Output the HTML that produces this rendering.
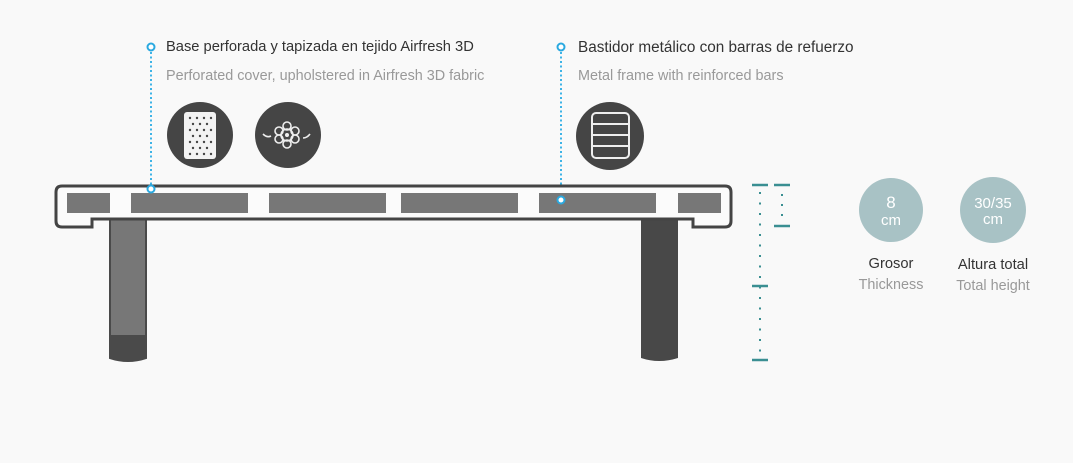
<!DOCTYPE html>
<html><head><style>
body{margin:0;background:#f9f9f9;width:1073px;height:463px;overflow:hidden;font-family:"Liberation Sans",sans-serif}
.t{position:absolute;font-size:14.7px;color:#333;white-space:nowrap}
.s{position:absolute;font-size:14.4px;color:#999;white-space:nowrap}
</style></head><body>
<svg width="1073" height="463" style="position:absolute;left:0;top:0">
<line x1="151" y1="52" x2="151" y2="185" stroke="#3db3e6" stroke-width="2" stroke-dasharray="2 2.5"/>
<circle cx="151" cy="47" r="3.5" fill="#fff" stroke="#2aa9e0" stroke-width="2"/>
<line x1="561" y1="52" x2="561" y2="196" stroke="#3db3e6" stroke-width="2" stroke-dasharray="2 2.5"/>
<circle cx="561" cy="47" r="3.5" fill="#fff" stroke="#2aa9e0" stroke-width="2"/>
<circle cx="200" cy="135" r="33" fill="#454545"/>
<rect x="184" y="112" width="32" height="47" rx="3" fill="#f3f3f3"/>
<g fill="#454545">
<circle cx="190" cy="118" r="1.2"/><circle cx="197" cy="118" r="1.2"/><circle cx="204" cy="118" r="1.2"/><circle cx="211" cy="118" r="1.2"/>
<circle cx="193" cy="124" r="1.2"/><circle cx="200" cy="124" r="1.2"/><circle cx="207" cy="124" r="1.2"/>
<circle cx="190" cy="130" r="1.2"/><circle cx="197" cy="130" r="1.2"/><circle cx="204" cy="130" r="1.2"/><circle cx="211" cy="130" r="1.2"/>
<circle cx="193" cy="136" r="1.2"/><circle cx="200" cy="136" r="1.2"/><circle cx="207" cy="136" r="1.2"/>
<circle cx="190" cy="142" r="1.2"/><circle cx="197" cy="142" r="1.2"/><circle cx="204" cy="142" r="1.2"/><circle cx="211" cy="142" r="1.2"/>
<circle cx="193" cy="148" r="1.2"/><circle cx="200" cy="148" r="1.2"/><circle cx="207" cy="148" r="1.2"/>
<circle cx="190" cy="154" r="1.2"/><circle cx="197" cy="154" r="1.2"/><circle cx="204" cy="154" r="1.2"/><circle cx="211" cy="154" r="1.2"/>
</g>
<circle cx="288" cy="135" r="33" fill="#454545"/>
<g fill="none" stroke="#eee" stroke-width="1.6">
<circle cx="287" cy="135" r="6"/><circle cx="287" cy="126" r="4"/><circle cx="287" cy="144" r="4"/><circle cx="279" cy="131" r="4"/><circle cx="295" cy="131" r="4"/><circle cx="279" cy="139" r="4"/><circle cx="295" cy="139" r="4"/>
<path d="M263 134 q4 4 8 2"/><path d="M303 138 q4 0 7 -4"/>
</g>
<circle cx="287" cy="135" r="2" fill="#eee"/>
<circle cx="610" cy="136" r="34" fill="#454545"/>
<rect x="592" y="113" width="37" height="45" rx="4" fill="none" stroke="#eee" stroke-width="2"/>
<g stroke="#eee" stroke-width="2"><line x1="592" y1="124" x2="629" y2="124"/><line x1="592" y1="135" x2="629" y2="135"/><line x1="592" y1="146" x2="629" y2="146"/></g>
<path d="M110 219 H146 V358 Q128 364 110 358 Z" fill="#777" stroke="#4a4a4a" stroke-width="2"/>
<path d="M110 335 H146 V358 Q128 364 110 358 Z" fill="#4a4a4a"/>
<path d="M641 219 H678 V358 Q659 364 641 358 Z" fill="#484848"/>
<path d="M63 186 H725 Q731 186 731 192 V221 Q731 227 725 227 H693 V219 H92 V227 H62 Q56 227 56 221 V192 Q56 186 62 186 Z" fill="#fbfbfb" stroke="#444" stroke-width="3"/>
<g fill="#777">
<rect x="67" y="193" width="43" height="20"/><rect x="131" y="193" width="117" height="20"/><rect x="269" y="193" width="117" height="20"/><rect x="401" y="193" width="117" height="20"/><rect x="539" y="193" width="117" height="20"/><rect x="678" y="193" width="43" height="20"/>
</g>
<circle cx="151" cy="189" r="3.5" fill="#fff" stroke="#2aa9e0" stroke-width="2"/>
<circle cx="561" cy="200" r="3.5" fill="#fff" stroke="#2aa9e0" stroke-width="2"/>
<g stroke="#3a8f92" stroke-width="2.5">
<line x1="752" y1="185" x2="768" y2="185"/><line x1="752" y1="286" x2="768" y2="286"/><line x1="752" y1="360" x2="768" y2="360"/>
<line x1="774" y1="185" x2="790" y2="185"/><line x1="774" y1="226" x2="790" y2="226"/>
</g>
<line x1="760" y1="192" x2="760" y2="356" stroke="#3a8f92" stroke-width="2" stroke-dasharray="2 8.5"/>
<line x1="782" y1="194" x2="782" y2="220" stroke="#3a8f92" stroke-width="2" stroke-dasharray="2 8"/>
<circle cx="891" cy="210" r="32" fill="#a8c2c5"/>
<circle cx="993" cy="210" r="33" fill="#a8c2c5"/>
<g fill="#fff" font-family="Liberation Sans" text-anchor="middle">
<text x="891" y="208" font-size="17">8</text><text x="891" y="225" font-size="15">cm</text>
<text x="993" y="208" font-size="15">30/35</text><text x="993" y="224" font-size="15">cm</text>
</g>
</svg>
<div class="t" style="left:166px;top:39px">Base perforada y tapizada en tejido Airfresh 3D</div>
<div class="s" style="left:166px;top:68px">Perforated cover, upholstered in Airfresh 3D fabric</div>
<div class="t" style="left:578px;top:39px;font-size:15.3px">Bastidor metálico con barras de refuerzo</div>
<div class="s" style="left:578px;top:68px">Metal frame with reinforced bars</div>
<div class="t" style="left:850px;width:82px;text-align:center;top:256px">Grosor</div>
<div class="s" style="left:850px;width:82px;text-align:center;top:277px">Thickness</div>
<div class="t" style="left:943px;width:100px;text-align:center;top:257px">Altura total</div>
<div class="s" style="left:943px;width:100px;text-align:center;top:278px">Total height</div>
</body></html>
